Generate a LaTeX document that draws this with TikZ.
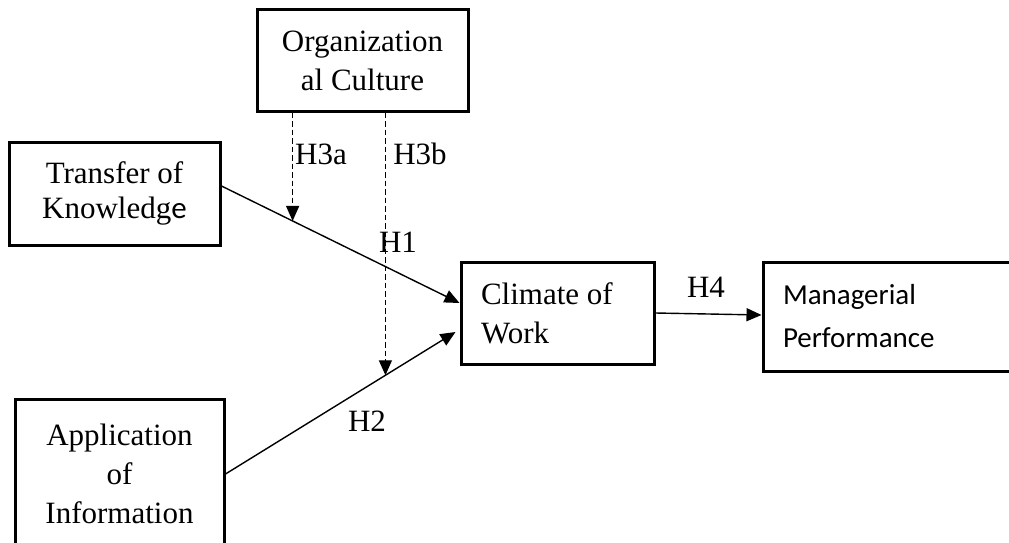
\documentclass[tikz,border=0pt]{standalone}
\usepackage{fontspec}
\setmainfont{Liberation Serif}
\newfontfamily\carlito{Carlito}
\usetikzlibrary{arrows.meta,calc}
\begin{document}
\begin{tikzpicture}[x=1pt,y=-1pt,
  box/.style={draw, line width=3pt, rectangle, inner sep=0pt, align=center},
  tnr/.style={font=\fontsize{31}{39}\selectfont},
  conn/.style={line width=1.4pt, -{Triangle[length=15pt,width=13pt]}},
  dconn/.style={conn, dash pattern=on 5.5pt off 3pt},
  lab/.style={font=\fontsize{31}{39}\selectfont, anchor=base, inner sep=0pt}]
\useasboundingbox (0,0) rectangle (1009,543);
\node[box, tnr, minimum width=211pt, minimum height=101pt] (oc) at (362.5,60.5) {Organization\\al Culture};
\node[box, font=\fontsize{31}{35}\selectfont, minimum width=211pt, minimum height=103pt] (tk) at (114.5,193.5) {Transfer of\\Knowledg{\carlito e}};
\node[box, tnr, minimum width=209pt, minimum height=150pt] (app) at (119.5,474) {Application\\of\\Information};
\node[box, tnr, align=left, inner xsep=20pt, text width=153pt, minimum width=193pt, minimum height=102pt] (cw) at (557.5,313) {\spaceskip=0pt\xspaceskip=0pt\relax Climate of\\Work};
\node[box, font=\carlito\fontsize{29}{43}\selectfont, align=left, inner xsep=20pt, text width=212pt, minimum width=252pt, minimum height=109pt] (mp) at (889,316.5) {Managerial\\Performance};
\draw[conn] ($(tk.east)+(0,-7.5)$) coordinate (tkout) -- ($(cw.west)+(0,-10)$) coordinate (cwin1);
\draw[conn] (app.east) coordinate (apout) -- ($(cw.west)+(-4,19)$) coordinate (cwin2);
\coordinate (h3a) at ($(tkout)!0.2988!(cwin1)$);
\coordinate (h3b) at ($(apout)!0.6953!(cwin2)$);
\draw[dconn] (oc.south -| h3a) -- (h3a);
\draw[dconn] (oc.south -| h3b) -- (h3b);
\draw[conn] (cw.east) -- ($(mp.west)+(0,-1.5)$);
\node[lab] (l3a) at (321,164) {H3a};
\node[lab] (l3b) at (420,164) {H3b};
\node[lab] (l1) at (398,252) {H1};
\node[lab] (l2) at (367,431) {H2};
\node[lab] (l4) at (706,297) {H4};
\end{tikzpicture}
\end{document}
